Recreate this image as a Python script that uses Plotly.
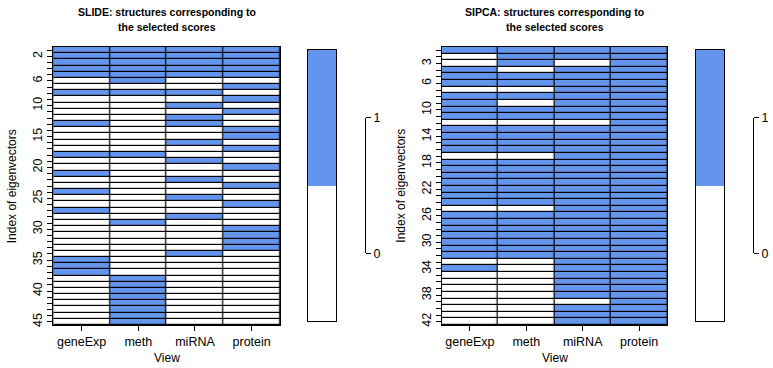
import plotly.graph_objects as go

# ---------------- data ----------------
views = ["geneExp", "meth", "miRNA", "protein"]

# SLIDE (45 eigenvectors), 1 = structure selected
slide_geneExp = [1,1,1,1,1,0,0,1,0,0,0,0,1,0,0,0,0,1,0,0,1,0,0,1,0,0,1,0,0,0,0,0,0,0,1,1,1,0,0,0,0,0,0,0,0]
slide_meth    = [1,1,1,1,1,1,0,1,0,0,0,0,0,0,0,0,0,1,0,0,0,0,0,0,0,0,0,0,1,0,0,0,0,0,0,0,0,1,1,1,1,1,1,1,1]
slide_miRNA   = [1,1,1,1,1,0,0,1,0,1,0,1,1,0,0,1,0,0,1,0,0,1,0,0,1,0,0,1,0,0,0,0,0,1,0,0,0,0,0,0,0,0,0,0,0]
slide_protein = [1,1,1,1,1,0,1,0,1,0,1,0,0,1,1,0,1,0,0,1,0,0,1,0,0,1,0,0,0,1,1,1,1,0,0,0,0,0,0,0,0,0,0,0,0]

# SIPCA (42 eigenvectors)
sipca_geneExp = [1,0,0,1,1,1,0,1,1,1,1,0,1,1,1,1,0,1,1,1,1,1,1,1,0,1,1,1,1,1,1,1,0,1,0,0,0,0,0,0,0,0]
sipca_meth    = [1,1,1,0,1,1,0,1,0,1,1,0,1,1,1,1,0,1,1,1,1,1,1,1,0,1,1,1,1,1,1,1,0,0,0,0,0,0,0,0,0,0]
sipca_miRNA   = [1,1,0,1,1,1,1,1,1,1,1,0,1,1,1,1,1,1,1,1,1,1,1,1,1,1,1,1,1,1,1,1,1,1,1,1,1,1,0,1,1,1]
sipca_protein = [1]*42

slide_tick_labels = [2, 6, 10, 15, 20, 25, 30, 35, 40, 45]
sipca_tick_labels = [3, 6, 10, 14, 18, 22, 26, 30, 34, 38, 42]

legend_levels = [0, 1]
legend_edges = [-0.5, 0.5, 1.5]
legend_ticks = [0, 1]

titles = ["SLIDE: structures corresponding to", "the selected scores",
          "SIPCA: structures corresponding to", "the selected scores"]

# ---------------- styling ----------------
W, H = 773, 368
BLUE = "#6495ED"
FONT = "Liberation Sans, Arial, sans-serif"
cscale = [[0, "white"], [0.5, "white"], [0.5, BLUE], [1, BLUE]]


def px_x(a, b):
    return [a / W, b / W]


def px_y(top, bottom):
    return [1 - bottom / H, 1 - top / H]


def sfx(k):
    return "" if k == 1 else str(k)


fig = go.Figure()

panels = [
    dict(cols=[slide_geneExp, slide_meth, slide_miRNA, slide_protein],
         labels=slide_tick_labels, x0=53.3, x1=280.0, strip=(308, 336), axline=365),
    dict(cols=[sipca_geneExp, sipca_meth, sipca_miRNA, sipca_protein],
         labels=sipca_tick_labels, x0=441.7, x1=667.3, strip=(696, 724), axline=753),
]

PT, PB = 47.0, 325.0
ST, SB = 50.0, 321.0

layout = dict(
    width=W, height=H, margin=dict(l=0, r=0, t=0, b=0, autoexpand=False),
    paper_bgcolor="white", plot_bgcolor="rgba(0,0,0,0)", showlegend=False,
    font=dict(family=FONT, size=12, color="black"),
)
annotations = []
shapes = []

for i, p in enumerate(panels):
    n = len(p["cols"][0])
    rows = list(range(1, n + 1))
    z = [[p["cols"][c][r] for c in range(len(views))] for r in range(n)]
    k = 3 * i + 1  # axis ids: heatmap k, strip k+1, bracket k+2
    xa, ya = "x" + sfx(k), "y" + sfx(k)
    # black backdrop that shows through the cell gaps as grid lines
    shapes.append(dict(type="rect", xref=f"{xa} domain", yref=f"{ya} domain",
                       x0=0, x1=1, y0=0, y1=1, fillcolor="black",
                       line=dict(width=0), layer="below"))
    fig.add_trace(go.Heatmap(
        z=z, x=views, y=rows, colorscale=cscale, zmin=0, zmax=1,
        showscale=False, xgap=1.2, ygap=1.2, xaxis=xa, yaxis=ya,
        hoverinfo="skip"))
    ticktext = [str(r) if r in p["labels"] else "" for r in rows]
    layout["xaxis" + sfx(k)] = dict(
        domain=px_x(p["x0"], p["x1"]), anchor=ya, showgrid=False, zeroline=False,
        showline=True, mirror=True, linecolor="black", linewidth=1,
        ticks="outside", ticklen=5, tickcolor="black", tickfont=dict(size=12.5),
        range=[-0.5, 3.5], fixedrange=True, automargin=False)
    layout["yaxis" + sfx(k)] = dict(
        domain=px_y(PT, PB), anchor=xa, showgrid=False, zeroline=False,
        showline=True, mirror=True, linecolor="black", linewidth=1,
        range=[n + 0.5, 0.5], tickvals=rows, ticktext=ticktext, tickangle=-90,
        ticks="outside", ticklen=5, tickcolor="black", tickfont=dict(size=12.5),
        fixedrange=True, automargin=False)

    # legend strip
    ks = k + 1
    fig.add_trace(go.Heatmap(
        z=[[legend_levels[0]], [legend_levels[1]]], x=[0], y=legend_edges,
        colorscale=cscale, zmin=0, zmax=1, showscale=False,
        xaxis="x" + sfx(ks), yaxis="y" + sfx(ks), hoverinfo="skip"))
    layout["xaxis" + sfx(ks)] = dict(
        domain=px_x(*p["strip"]), anchor="y" + sfx(ks), showticklabels=False,
        ticks="", showgrid=False, zeroline=False, showline=True, mirror=True,
        linecolor="black", linewidth=1, range=[-0.5, 0.5], fixedrange=True,
        automargin=False)
    layout["yaxis" + sfx(ks)] = dict(
        domain=px_y(ST, SB), anchor="x" + sfx(ks), showticklabels=False, ticks="",
        showgrid=False, zeroline=False, showline=True, mirror=True,
        linecolor="black", linewidth=1, range=[legend_edges[0], legend_edges[-1]],
        fixedrange=True, automargin=False)

    # legend axis (bracket)
    kb = k + 2
    scale = (SB - ST) / (legend_edges[-1] - legend_edges[0])
    top1 = ST + (legend_edges[-1] - 1) * scale
    bot0 = ST + (legend_edges[-1] - 0) * scale
    fig.add_trace(go.Scatter(x=[0, 0], y=legend_ticks, mode="markers",
                             marker=dict(size=1, opacity=0),
                             xaxis="x" + sfx(kb), yaxis="y" + sfx(kb),
                             hoverinfo="skip"))
    layout["xaxis" + sfx(kb)] = dict(
        domain=px_x(p["axline"] - 4, p["axline"]), anchor="y" + sfx(kb),
        visible=False, fixedrange=True, automargin=False)
    layout["yaxis" + sfx(kb)] = dict(
        domain=px_y(top1, bot0), anchor="x" + sfx(kb), side="right", range=[0, 1],
        tickvals=legend_ticks, ticks="outside", ticklen=5, tickcolor="black",
        showline=True, linecolor="black", linewidth=1, showgrid=False,
        zeroline=False, tickfont=dict(size=12.5), fixedrange=True,
        automargin=False)

    cx = (p["x0"] + p["x1"]) / 2 / W
    annotations += [
        dict(text="<b>" + titles[2 * i] + "</b>", x=cx, y=1 - 12 / H, xref="paper",
             yref="paper", showarrow=False, xanchor="center", yanchor="middle",
             font=dict(size=10.5)),
        dict(text="<b>" + titles[2 * i + 1] + "</b>", x=cx, y=1 - 27 / H,
             xref="paper", yref="paper", showarrow=False, xanchor="center",
             yanchor="middle", font=dict(size=10.5)),
        dict(text="View", x=cx, y=1 - 358 / H, xref="paper", yref="paper",
             showarrow=False, xanchor="center", yanchor="middle", font=dict(size=12)),
        dict(text="Index of eigenvectors", x=(p["x0"] - 41) / W, y=1 - 186 / H,
             xref="paper", yref="paper", showarrow=False, textangle=-90,
             xanchor="center", yanchor="middle", font=dict(size=12)),
    ]

layout["annotations"] = annotations
layout["shapes"] = shapes
fig.update_layout(**layout)
fig.write_html("out.html",
               config={"displayModeBar": False},
               post_script="document.body.style.margin='0';")
